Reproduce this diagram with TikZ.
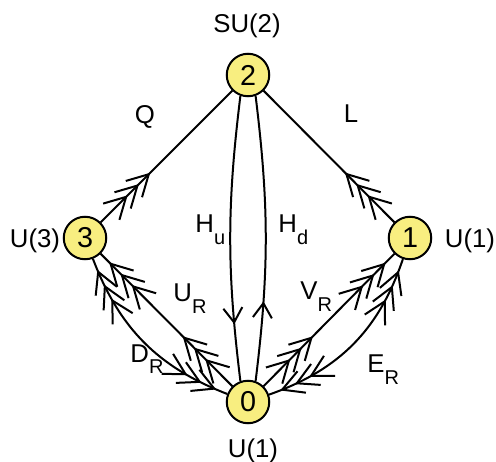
\documentclass[tikz,border=0pt]{standalone}
\usepackage{fontspec}
\setmainfont{Liberation Sans}
\usetikzlibrary{arrows.meta, decorations.markings}
\definecolor{gaugefill}{RGB}{248,238,128}
\newcommand\lowsub[1]{\raisebox{-4.6pt}{\fontsize{8}{9}\selectfont #1}}

\begin{document}
\begin{tikzpicture}[
  x=0.4pt, y=0.4pt,
  gauge/.style={circle, draw, fill=gaugefill, line width=0.8pt,
    minimum size=17pt, inner sep=0pt, font=\fontsize{11.5}{12}\selectfont},
  lab/.style={font=\fontsize{10.3}{12}\selectfont, inner sep=0pt},
  link/.style={line width=0.8pt},
  chev/.tip={Straight Barb[length=8.4pt, width=9.2pt]},
  hchev/.tip={Straight Barb[length=5.8pt, width=7.6pt]},
  outA/.style={postaction={decorate, decoration={markings,
      mark=at position 15.2pt with {\arrow{chev}},
      mark=at position 21.6pt with {\arrow{chev}},
      mark=at position 28pt with {\arrow{chev}}}}},
  inA/.style={postaction={decorate, decoration={markings,
      mark=at position 4.8pt with {\arrowreversed{chev}},
      mark=at position 11.2pt with {\arrowreversed{chev}},
      mark=at position 17.6pt with {\arrowreversed{chev}}}}},
  inB/.style={postaction={decorate, decoration={markings,
      mark=at position -4.8pt with {\arrow{chev}},
      mark=at position -11.2pt with {\arrow{chev}},
      mark=at position -17.6pt with {\arrow{chev}}}}},
  outB/.style={postaction={decorate, decoration={markings,
      mark=at position -15.2pt with {\arrowreversed{chev}},
      mark=at position -21.6pt with {\arrowreversed{chev}},
      mark=at position -28pt with {\arrowreversed{chev}}}}},
  higgs/.style={postaction={decorate, decoration={markings,
      mark=at position #1 with {\arrow{hchev}}}}}
]
\useasboundingbox (0,0) rectangle (496,462);

\node[gauge] (n2) at (248,387) {2};
\node[gauge] (n3) at (85,224) {3};
\node[gauge] (n1) at (410,224) {1};
\node[gauge] (n0) at (248,60) {0};

\node[lab, anchor=base] (su2) at (247,430) {SU(2)};
\node[lab, anchor=base] (u3) at (35,214) {U(3)};
\node[lab, anchor=base] (u1r) at (470,214) {U(1)};
\node[lab, anchor=base] (u1b) at (253,4) {U(1)};

\node[lab, anchor=base] (lq) at (145,339) {Q};
\node[lab, anchor=base] (ll) at (351,340) {L};
\node[lab, anchor=base west] (lhu) at (195,229) {H\lowsub{u}};
\node[lab, anchor=base west] (lhd) at (278,229) {H\lowsub{d}};
\node[lab, anchor=base west] (lur) at (173,160) {U\lowsub{R}};
\node[lab, anchor=base west] (lvr) at (300,162) {V\lowsub{R}};
\node[lab, anchor=base west] (ldr) at (130,100) {D\lowsub{R}};
\node[lab, anchor=base west] (ler) at (367,89) {E\lowsub{R}};

\draw[link, outA] (n3) -- (n2);
\draw[link, outA] (n1) -- (n2);
\draw[link, higgs=0.8] (n2.250) to[bend right=7] (n0.110);
\draw[link, higgs=0.28] (n0.70) to[bend right=7] (n2.290);
\draw[link, inA, outB] (n3) -- (n0);
\draw[link, inA, inB] (n3) to[bend right=24] (n0);
\draw[link, outA, inB] (n0) -- (n1);
\draw[link, inA, inB] (n0) to[bend right=26] (n1);
\end{tikzpicture}
\end{document}
